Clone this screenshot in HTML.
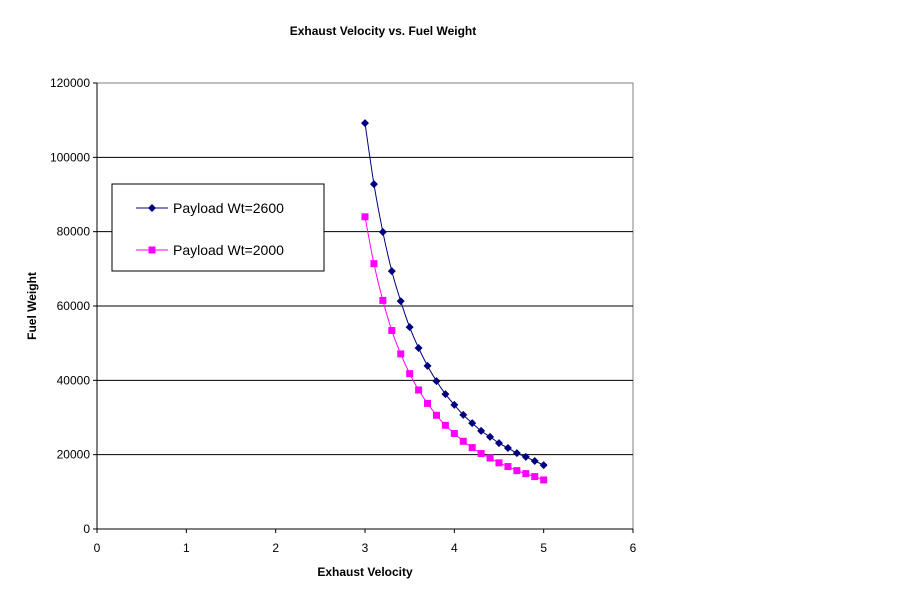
<!DOCTYPE html>
<html><head><meta charset="utf-8"><style>
body{margin:0;background:#fff;font-family:"Liberation Sans",Arial,sans-serif}
svg text{font-family:"Liberation Sans",Arial,sans-serif}
</style></head><body>
<svg id="c" width="908" height="602" xmlns="http://www.w3.org/2000/svg">
<text x="383" y="35" font-size="12" font-weight="bold" text-anchor="middle">Exhaust Velocity vs. Fuel Weight</text>
<rect x="97" y="83" width="536" height="446" fill="#fff" stroke="#808080"/>
<g id="grid"></g><g id="axes"></g><g id="series"></g>
<text x="365" y="576" font-size="12" font-weight="bold" text-anchor="middle">Exhaust Velocity</text>
<text transform="translate(36,306) rotate(-90)" font-size="12" font-weight="bold" text-anchor="middle">Fuel Weight</text>
<g>
<rect x="112" y="184" width="212" height="87" fill="#fff" stroke="#000"/>
<g>
<line x1="136" y1="208" x2="168" y2="208" stroke="#000080"/>
<path d="M152,204 L156,208 L152,212 L148,208Z" fill="#000080"/>
<text x="173" y="213" font-size="14">Payload Wt=2600</text></g>
<g>
<line x1="136" y1="250" x2="168" y2="250" stroke="#ff00ff"/>
<rect x="148.5" y="246.5" width="7" height="7" fill="#ff00ff"/>
<text x="173" y="255" font-size="14">Payload Wt=2000</text></g>
</g>
</svg>
<script>
const xValues=[3.0,3.1,3.2,3.3,3.4,3.5,3.6,3.7,3.8,3.9,4.0,4.1,4.2,4.3,4.4,4.5,4.6,4.7,4.8,4.9,5.0];
const series2600=[109200,92800,79900,69400,61300,54300,48700,43900,39800,36300,33400,30700,28500,26400,24800,23100,21800,20400,19400,18300,17200];
const series2000=[84000,71400,61500,53400,47100,41800,37400,33800,30600,27900,25700,23600,21900,20300,19100,17800,16800,15700,14900,14100,13200];
const xTicks=[0,1,2,3,4,5,6];
const yTicks=[0,20000,40000,60000,80000,100000,120000];
const NS="http://www.w3.org/2000/svg";
const X=v=>97+v*(536/6), Y=v=>529-v*(446/120000);
function mk(t,a,p){const e=document.createElementNS(NS,t);for(const k in a)e.setAttribute(k,a[k]);p.appendChild(e);return e;}
const grid=document.getElementById('grid'),axes=document.getElementById('axes'),ser=document.getElementById('series');
yTicks.forEach(v=>{
 if(v>0&&v<120000){const g=mk('line',{x1:97,x2:633,y1:Y(v),y2:Y(v),stroke:'#000'},grid);
 
 }
 const t=mk('text',{x:90,y:Y(v)+4,'font-size':12,'text-anchor':'end'},axes);t.textContent=v;
 
 
 mk('line',{x1:93,x2:97,y1:Y(v),y2:Y(v),stroke:'#000'},axes);
});
xTicks.forEach(v=>{
 const t=mk('text',{x:X(v),y:552,'font-size':12,'text-anchor':'middle'},axes);t.textContent=v;
 
 
 mk('line',{x1:X(v),x2:X(v),y1:529,y2:533,stroke:'#000'},axes);
});
mk('line',{x1:97,x2:633,y1:529,y2:529,stroke:'#000'},axes);
mk('line',{x1:97,x2:97,y1:83,y2:529,stroke:'#000'},axes);
function curve(vals){const p=xValues.map((x,i)=>[X(x),Y(vals[i])]);let d=`M${p[0][0]},${p[0][1]}`;
 for(let i=0;i<p.length-1;i++){const p0=p[i-1]||p[i],p1=p[i],p2=p[i+1],p3=p[i+2]||p2;
 d+=` C${p1[0]+(p2[0]-p0[0])/6},${p1[1]+(p2[1]-p0[1])/6} ${p2[0]-(p3[0]-p1[0])/6},${p2[1]-(p3[1]-p1[1])/6} ${p2[0]},${p2[1]}`;}return d;}
const l1=mk('path',{d:curve(series2600),fill:'none',stroke:'#000080'},ser);


const l2=mk('path',{d:curve(series2000),fill:'none',stroke:'#ff00ff'},ser);


xValues.forEach((x,i)=>{
 const cx=X(x),cy=Y(series2600[i]);
 const m=mk('path',{d:`M${cx},${cy-4} L${cx+4},${cy} L${cx},${cy+4} L${cx-4},${cy}Z`,fill:'#000080'},ser);
 
 
 const cy2=Y(series2000[i]);
 const s=mk('rect',{x:cx-3.5,y:cy2-3.5,width:7,height:7,fill:'#ff00ff'},ser);
 
 
});
</script>
</body></html>
